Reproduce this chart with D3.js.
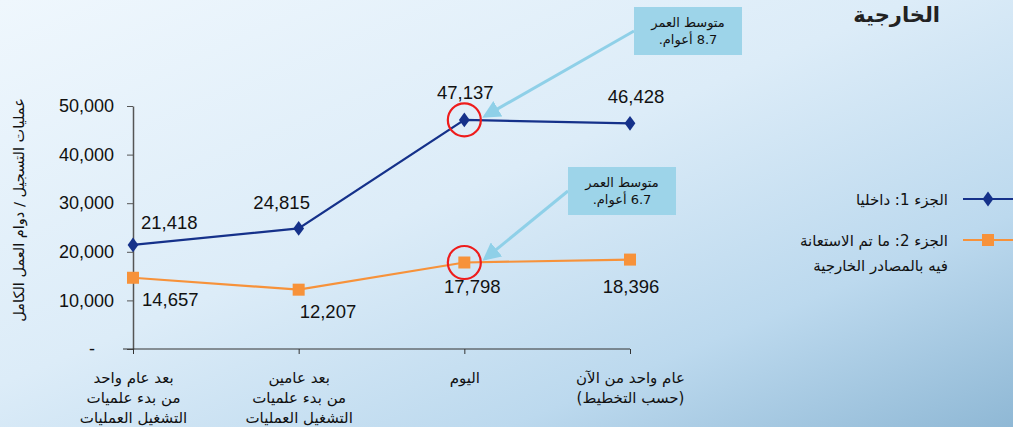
<!DOCTYPE html>
<html>
<head>
<meta charset="utf-8">
<script src="https://cdn.jsdelivr.net/npm/d3@7"></script>
<style>
  html, body { margin: 0; padding: 0; }
  body { width: 1013px; height: 427px; overflow: hidden; font-family: "Liberation Sans", Arial, sans-serif; }
</style>
</head>
<body>
<div id="chart"></div>
<script>
const width = 1013,
    height = 427;

// البيانات
const categories = [
    ["بعد عام واحد", "من بدء علميات", "التشغيل العمليات"],
    ["بعد عامين", "من بدء علميات", "التشغيل العمليات"],
    ["اليوم"],
    ["عام واحد من الآن", "(حسب التخطيط)"]
];
const series1 = [21418, 24815, 47137, 46428];
const series2 = [14657, 12207, 17798, 18396];
const yTicks = [0, 10000, 20000, 30000, 40000, 50000];
const legendNames = [["الجزء 1: داخليا"], ["الجزء 2: ما تم الاستعانة", "فيه بالمصادر الخارجية"]];
const callouts = [
    { idx: 2, series: 0, lines: ["متوسط العمر", "8.7 أعوام."] },
    { idx: 2, series: 1, lines: ["متوسط العمر", "6.7 أعوام."] }
];

const c1 = "#15318a", c2 = "#f7923a";

const svg = d3.select("#chart")
    .append("svg")
    .attr("width", width)
    .attr("height", height);

// خلفية متدرجة
const grad = svg.append("defs").append("linearGradient")
    .attr("id", "bg").attr("x1", 0).attr("y1", 0).attr("x2", 1).attr("y2", 1);
grad.append("stop").attr("offset", "0%").attr("stop-color", "#eff7fd");
grad.append("stop").attr("offset", "45%").attr("stop-color", "#dcecf8");
grad.append("stop").attr("offset", "75%").attr("stop-color", "#bcd9ee");
grad.append("stop").attr("offset", "100%").attr("stop-color", "#8fb8d5");
svg.append("rect").attr("width", width).attr("height", height).attr("fill", "url(#bg)");

const x = d3.scalePoint()
    .domain(d3.range(categories.length))
    .range([133, 630]);

const y = d3.scaleLinear()
    .domain([0, 50000])
    .range([349, 106]);

// المحور الصادي
const yAxis = svg.append("g")
    .attr("transform", "translate(133,0)")
    .call(d3.axisLeft(y).tickValues(yTicks).tickSize(6).tickSizeOuter(0)
        .tickFormat(d => d === 0 ? "-" : d3.format(",")(d)));
yAxis.select(".domain").attr("stroke", "#555").attr("stroke-width", 1.5);
yAxis.selectAll(".tick line").attr("stroke", "#555");
yAxis.selectAll("text")
    .attr("font-size", 18).attr("fill", "#111")
    .attr("font-family", "Liberation Sans, Arial, sans-serif")
    .attr("x", d => d === 0 ? -38 : -19);

// المحور السيني
const xAxis = svg.append("g")
    .attr("transform", "translate(0,349)")
    .call(d3.axisBottom(x).tickSize(5).tickSizeOuter(0).tickFormat(""));
xAxis.select(".domain").attr("stroke", "#333").attr("d", `M${x(0) - 10},0H${x(3)}`);
xAxis.selectAll(".tick line").attr("stroke", "#333");

xAxis.selectAll(".tick").each(function (d) {
    const t = d3.select(this).append("text")
        .attr("fill", "#111")
        .attr("font-size", 15)
        .attr("font-family", "DejaVu Sans, sans-serif")
        .attr("text-anchor", "middle")
        .attr("direction", "rtl");
    categories[d].forEach((line, i) => {
        t.append("tspan").attr("x", 0).attr("y", 34 + i * 20).text(line);
    });
});

// عنوان المحور
svg.append("text")
    .attr("transform", "translate(24,210) rotate(-90)")
    .attr("text-anchor", "middle")
    .attr("font-size", 14.5)
    .attr("fill", "#111")
    .attr("font-family", "DejaVu Sans, sans-serif")
    .attr("direction", "rtl")
    .text("عمليات التسجيل / دوام العمل الكامل");

// الخطوط
const line = d3.line().x((d, i) => x(i)).y(d => y(d));

svg.append("path").datum(series2)
    .attr("fill", "none").attr("stroke", c2).attr("stroke-width", 2.2).attr("d", line);
svg.append("path").datum(series1)
    .attr("fill", "none").attr("stroke", c1).attr("stroke-width", 2.2).attr("d", line);

svg.selectAll(".m2").data(series2).join("rect")
    .attr("x", (d, i) => x(i) - 6).attr("y", d => y(d) - 6)
    .attr("width", 12).attr("height", 12).attr("fill", c2);

const diamond = d3.symbol().type(d3.symbolDiamond).size(70);
svg.selectAll(".m1").data(series1).join("path")
    .attr("d", diamond)
    .attr("transform", (d, i) => `translate(${x(i)},${y(d)}) scale(1.2,0.95)`)
    .attr("fill", c1);

// تسميات البيانات
const fmt = d3.format(",");
const lab1 = [[8, -16, "start"], [-17, -19, "middle"], [1, -21, "middle"], [6, -20, "middle"]];
const lab2 = [[9, 28, "start"], [1, 28, "start"], [8, 30, "middle"], [1, 33, "middle"]];
function labels(data, offs) {
    svg.append("g").selectAll("text").data(data).join("text")
        .attr("x", (d, i) => x(i) + offs[i][0])
        .attr("y", (d, i) => y(d) + offs[i][1])
        .attr("text-anchor", (d, i) => offs[i][2])
        .attr("font-size", 18.5)
        .attr("fill", "#111")
        .text(d => fmt(d));
}
labels(series1, lab1);
labels(series2, lab2);

// الدوائر الحمراء والأسهم
const boxes = [{ x: 634, y: 7 }, { x: 568, y: 167 }];
const defs = svg.select("defs");
defs.append("marker")
    .attr("id", "arr").attr("viewBox", "0 0 10 10")
    .attr("refX", 8).attr("refY", 5)
    .attr("markerWidth", 6).attr("markerHeight", 6)
    .attr("orient", "auto")
    .append("path").attr("d", "M0,0L10,5L0,10z").attr("fill", "#8fd0e8");

callouts.forEach((c, k) => {
    const val = c.series === 0 ? series1[c.idx] : series2[c.idx];
    const cx = x(c.idx), cy = y(val);
    const b = boxes[k];
    svg.append("circle")
        .attr("cx", cx).attr("cy", cy).attr("r", 16.5)
        .attr("fill", "none").attr("stroke", "#ee1c1c").attr("stroke-width", 2.2);
    svg.append("line")
        .attr("x1", b.x).attr("y1", b.y + 24)
        .attr("x2", cx + 21).attr("y2", cy - 4)
        .attr("stroke", "#8fd0e8").attr("stroke-width", 3)
        .attr("marker-end", "url(#arr)");
    svg.append("rect")
        .attr("x", b.x).attr("y", b.y).attr("width", 108).attr("height", 48)
        .attr("fill", "#9dd4e9");
    const t = svg.append("text")
        .attr("text-anchor", "middle").attr("fill", "#111")
        .attr("font-size", 13)
        .attr("font-family", "DejaVu Sans, sans-serif")
        .attr("direction", "rtl");
    c.lines.forEach((l, i) => {
        t.append("tspan").attr("x", b.x + 54).attr("y", b.y + 20 + i * 17).text(l);
    });
});

// وسيلة الإيضاح
const legY = [199, 240];
[c1, c2].forEach((col, i) => {
    svg.append("line").attr("x1", 963).attr("x2", 1013)
        .attr("y1", legY[i]).attr("y2", legY[i])
        .attr("stroke", col).attr("stroke-width", 2);
    if (i === 0) {
        svg.append("path").attr("d", diamond)
            .attr("transform", `translate(988,${legY[i]}) scale(1.2,0.95)`).attr("fill", col);
    } else {
        svg.append("rect").attr("x", 982).attr("y", legY[i] - 6)
            .attr("width", 12).attr("height", 12).attr("fill", col);
    }
    const t = svg.append("text")
        .attr("text-anchor", "start").attr("fill", "#111")
        .attr("font-size", 15)
        .attr("font-family", "DejaVu Sans, sans-serif")
        .attr("direction", "rtl");
    legendNames[i].forEach((l, j) => {
        t.append("tspan").attr("x", 948).attr("y", legY[i] + 6 + j * 25).text(l);
    });
});

// العنوان (مقطوع)
svg.append("text")
    .attr("x", 940).attr("y", 22)
    .attr("text-anchor", "start")
    .attr("direction", "rtl")
    .attr("font-size", 21).attr("font-weight", "bold")
    .attr("fill", "#222")
    .attr("font-family", "DejaVu Sans, sans-serif")
    .text("الخارجية");
</script>
</body>
</html>
